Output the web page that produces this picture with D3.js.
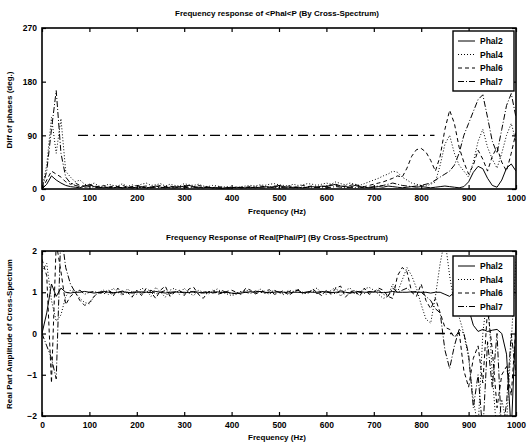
<!DOCTYPE html>
<html>
<head>
<meta charset="utf-8">
<script src="https://cdn.jsdelivr.net/npm/d3@7"></script>
<style>
  body { margin: 0; background: #fff; }
  text { font-family: "Liberation Sans", Arial, sans-serif; font-weight: bold; fill: #000; }
</style>
</head>
<body>
<div id="chart"></div>
<script>
// data (f step 10 Hz)
const freqs = d3.range(0, 1001, 10);
const seriesNames = ["Phal2", "Phal4", "Phal6", "Phal7"];

const phal2Phase = [0, 8, 22, 15, 10, 6, 4, 3, 2, 5,
  7, 4, 3, 2, 3, 2, 3, 2, 3, 2,
  3, 4, 2, 3, 5, 3, 2, 3, 4, 3,
  5, 6, 4, 3, 2, 3, 2, 2, 1, 2,
  2, 3, 2, 2, 3, 2, 3, 4, 3, 4,
  6, 4, 3, 2, 3, 2, 3, 4, 3, 5,
  4, 6, 8, 5, 4, 3, 6, 4, 3, 2,
  3, 4, 3, 5, 4, 3, 2, 3, 4, 3,
  4, 3, 2, 3, 4, 5, 4, 3, 2, 4,
  12, 28, 38, 34, 18, 6, 3, 15, 35, 42, 30];
const phal4Phase = [0, 40, 120, 60, 118, 30, 20, 12, 15, 8,
  6, 10, 5, 4, 8, 6, 5, 9, 4, 7,
  5, 8, 10, 6, 7, 9, 5, 8, 6, 5,
  9, 7, 6, 8, 5, 4, 6, 5, 3, 4,
  3, 2, 4, 5, 6, 5, 7, 6, 8, 9,
  7, 6, 5, 8, 6, 7, 9, 8, 6, 8,
  10, 8, 12, 9, 7, 10, 8, 6, 9, 12,
  15, 18, 22, 25, 30, 28, 20, 15, 10, 8,
  6, 5, 8, 12, 40, 75, 90, 60, 40, 30,
  20, 45, 80, 100, 70, 50, 35, 60, 90, 110, 80];
const phal6Phase = [0, 15, 30, 25, 20, 12, 8, 10, 6, 5,
  8, 5, 4, 6, 3, 5, 4, 6, 3, 4,
  6, 4, 5, 3, 4, 6, 4, 5, 3, 4,
  4, 5, 3, 6, 4, 3, 2, 4, 3, 2,
  2, 3, 2, 3, 4, 3, 5, 4, 3, 5,
  4, 3, 5, 4, 3, 6, 4, 5, 3, 4,
  5, 7, 6, 4, 5, 6, 8, 5, 4, 6,
  8, 10, 12, 15, 18, 22, 20, 35, 55, 66,
  68, 62, 48, 30, 55, 100, 132, 110, 70, 45,
  25, 40, 65, 50, 30, 55, 70, 45, 30, 60, 95];
const phal7Phase = [0, 30, 100, 165, 60, 20, 10, 6, 4, 3,
  4, 3, 2, 3, 2, 2, 3, 2, 3, 2,
  2, 3, 2, 2, 3, 2, 3, 2, 2, 3,
  3, 2, 3, 2, 2, 3, 2, 2, 2, 2,
  2, 2, 3, 2, 2, 3, 2, 2, 3, 2,
  3, 2, 2, 3, 2, 2, 3, 2, 3, 2,
  2, 3, 4, 3, 2, 3, 2, 3, 2, 3,
  4, 5, 6, 8, 10, 8, 6, 5, 4, 5,
  6, 8, 10, 15, 20, 25, 30, 40, 60, 90,
  110, 130, 150, 158, 120, 80, 60, 100, 140, 160, 120];

const phal2Real = [0, 0.5, 1.2, 0.9, 1.1, 1.0, 0.98, 1.0, 1.0, 1.02,
  1.0, 0.98, 1.0, 1.02, 1.0, 0.99, 1.0, 1.01, 1.0, 0.98,
  1.0, 1.01, 1.0, 0.99, 1.02, 1.0, 0.98, 1.0, 1.01, 1.0,
  1.0, 0.99, 1.02, 1.0, 0.98, 1.0, 1.0, 1.01, 0.99, 1.0,
  0.98, 0.97, 0.98, 1.0, 1.01, 1.0, 1.02, 1.0, 0.99, 1.0,
  1.01, 1.0, 0.98, 1.0, 1.0, 0.99, 1.01, 1.0, 1.0, 1.02,
  1.0, 0.99, 1.0, 1.01, 1.0, 0.98, 1.0, 1.02, 1.0, 1.0,
  1.01, 1.0, 0.99, 1.0, 1.02, 1.0, 1.0, 1.0, 1.01, 1.0,
  1.0, 1.0, 0.98, 1.0, 1.0, 0.95, 0.9, 1.0, 1.05, 0.9,
  0.6, 0.2, 0.05, 0.1, 0.05, 0.08, 0.1, 0.0, -0.5, -2.4, 0.4];
const phal4Real = [1.5, 1.7, 0.8, 0.3, 0.45, 0.9, 1.05, 1.0, 0.85, 0.75,
  0.72, 0.9, 1.0, 1.05, 0.95, 1.1, 1.0, 0.92, 1.08, 1.0,
  0.95, 1.1, 1.05, 0.9, 1.12, 1.0, 0.88, 1.05, 1.1, 0.95,
  1.1, 0.98, 0.92, 1.05, 1.0, 0.95, 1.02, 1.08, 1.0, 0.96,
  0.92, 0.95, 1.0, 1.05, 1.02, 0.98, 1.08, 1.0, 0.95, 1.05,
  1.0, 0.94, 1.05, 1.02, 1.08, 0.96, 1.0, 1.05, 1.1, 0.98,
  0.95, 1.05, 1.12, 0.9, 1.05, 1.1, 0.95, 1.0, 1.08, 1.12,
  1.05, 0.95, 0.85, 0.9, 1.2, 1.0, 1.3, 1.6, 1.4, 1.1,
  0.7, 0.35, 0.25, 0.9, 1.7, 2.3, 1.4, 0.7, 0.4, 0.0,
  -0.6, -1.6, -2.3, 0.0, 1.0, -1.0, -2.5, -1.6, -2.2, -0.2, 1.8];
const phal6Real = [1.8, 1.4, -1.2, 2.2, 1.5, 0.7, 0.9, 1.0, 0.8, 0.68,
  0.75, 0.9, 1.0, 0.95, 1.05, 0.9, 1.1, 0.95, 1.0, 0.88,
  1.05, 0.92, 1.1, 1.0, 0.85, 1.05, 1.15, 0.9, 1.0, 1.05,
  0.92, 1.08, 1.12, 0.95, 0.85, 1.0, 1.05, 0.95, 0.98, 1.02,
  1.05, 1.0, 0.95, 1.1, 1.05, 0.96, 1.0, 1.03, 1.06, 0.95,
  0.98, 1.05, 0.92, 1.0, 1.06, 1.0, 0.95, 1.08, 1.0, 0.92,
  1.05, 0.95, 1.1, 1.15, 0.88, 1.0, 1.05, 0.9, 1.1, 0.95,
  1.0, 1.1, 1.05, 0.9, 0.85, 1.4, 1.6, 1.5, 1.0, 0.9,
  1.2, 0.8, 0.6, 0.85, 0.5, 0.15, 0.1, -0.1, 0.05, -0.9,
  -1.3, -0.6, -0.3, -1.2, 0.6, -0.4, -1.8, -1.0, -0.8, -1.5, 0.2];
const phal7Real = [0.0, -0.3, -0.6, -1.1, 2.5, 1.6, 1.2, 1.0, 1.05, 0.95,
  1.0, 1.02, 0.98, 1.0, 1.05, 0.97, 1.0, 1.03, 0.98, 1.0,
  1.02, 0.98, 1.0, 1.05, 0.96, 1.0, 1.04, 0.97, 1.0, 1.02,
  0.98, 1.03, 1.0, 0.96, 1.0, 1.02, 0.98, 1.0, 1.04, 0.99,
  0.96, 0.98, 1.02, 1.0, 0.97, 1.03, 1.0, 0.98, 1.01, 1.04,
  1.0, 0.97, 1.02, 1.0, 1.05, 0.98, 1.0, 1.03, 0.97, 1.0,
  1.02, 1.0, 0.96, 1.05, 1.0, 0.98, 1.04, 1.0, 0.97, 1.02,
  1.0, 1.05, 0.95, 0.9, 1.1, 1.0, 1.05, 1.1, 1.0, 1.02,
  1.0, 0.9, 0.8, 0.6, 0.5, -0.4, -0.85, -0.3, 0.1, 0.0,
  -0.5, -1.8, -1.0, -2.4, -0.2, -1.3, 0.0, -2.5, -1.7, 0.0, -1.0];

// dash-dot reference lines
const refPhase = { value: 90, from: 76, to: 828 };
const refReal = { value: 0, from: 40, to: 880 };

const xTicks = d3.range(0, 1001, 100);
const phaseTicks = [0, 90, 180, 270];
const realTicks = [-2, -1, 0, 1, 2];

const dashes = ["none", "1,2", "4,3", "6,2,1,2"];

const width = 531, height = 448;
const svg = d3.select("#chart").append("svg")
  .attr("width", width).attr("height", height);

const x = d3.scaleLinear().domain([0, 1000]).range([42, 516]);

function drawPanel(opt) {
  const y = d3.scaleLinear().domain(opt.domain).range([opt.bottom, opt.top]);
  const g = svg.append("g");
  const clipId = "clip" + opt.id;
  svg.append("clipPath").attr("id", clipId)
    .append("rect")
    .attr("x", x.range()[0]).attr("y", opt.top)
    .attr("width", x.range()[1] - x.range()[0]).attr("height", opt.bottom - opt.top);

  const line = d3.line().x((d, i) => x(freqs[i])).y(d => y(d));
  const plot = g.append("g").attr("clip-path", `url(#${clipId})`);

  // reference line
  plot.append("line")
    .attr("x1", x(opt.ref.from)).attr("x2", x(opt.ref.to))
    .attr("y1", y(opt.ref.value)).attr("y2", y(opt.ref.value))
    .attr("stroke", "#000").attr("stroke-width", 1.3)
    .attr("stroke-dasharray", "10,5,2,5");

  opt.series.forEach((s, k) => {
    plot.append("path")
      .datum(s)
      .attr("d", line)
      .attr("fill", "none")
      .attr("stroke", "#000")
      .attr("stroke-width", 1)
      .attr("stroke-dasharray", dashes[k]);
  });

  // axes, ticks inward on all sides
  const fmt = d3.format("d");
  const xb = g.append("g").attr("transform", `translate(0,${opt.bottom})`)
    .call(d3.axisBottom(x).tickValues(xTicks).tickSize(-4).tickPadding(6).tickFormat(fmt));
  const xt = g.append("g").attr("transform", `translate(0,${opt.top})`)
    .call(d3.axisTop(x).tickValues(xTicks).tickSize(-4).tickFormat(""));
  const yl = g.append("g").attr("transform", `translate(${x.range()[0]},0)`)
    .call(d3.axisLeft(y).tickValues(opt.ticks).tickSize(-4).tickPadding(5).tickFormat(fmt));
  const yr = g.append("g").attr("transform", `translate(${x.range()[1]},0)`)
    .call(d3.axisRight(y).tickValues(opt.ticks).tickSize(-4).tickFormat(""));
  [xb, xt, yl, yr].forEach(a => {
    a.select(".domain").remove();
    a.selectAll("line").attr("stroke", "#000").attr("stroke-width", 1.2);
    a.selectAll("text").attr("font-size", 8.5).attr("font-weight", "bold")
      .attr("font-family", "Liberation Sans, Arial, sans-serif");
  });
  g.append("rect")
    .attr("x", x.range()[0]).attr("y", opt.top)
    .attr("width", x.range()[1] - x.range()[0]).attr("height", opt.bottom - opt.top)
    .attr("fill", "none").attr("stroke", "#000").attr("stroke-width", 1.6);

  // labels
  g.append("text").attr("x", 277).attr("y", opt.titleY)
    .attr("text-anchor", "middle").attr("font-size", 8).text(opt.title);
  g.append("text").attr("x", 277).attr("y", opt.xLabelY)
    .attr("text-anchor", "middle").attr("font-size", 8).text("Frequency (Hz)");
  g.append("text")
    .attr("transform", `translate(12,${opt.yLabelMid}) rotate(-90)`)
    .attr("text-anchor", "middle").attr("font-size", 8).text(opt.yLabel);

  // legend
  const lg = g.append("g").attr("transform", `translate(453,${opt.legendTop})`);
  lg.append("rect").attr("width", 61).attr("height", 60)
    .attr("fill", "#fff").attr("stroke", "#000").attr("stroke-width", 1.4);
  seriesNames.forEach((name, k) => {
    const yy = 10 + k * 13.5;
    lg.append("line").attr("x1", 5).attr("x2", 22).attr("y1", yy).attr("y2", yy)
      .attr("stroke", "#000").attr("stroke-width", 1).attr("stroke-dasharray", dashes[k]);
    lg.append("text").attr("x", 27).attr("y", yy + 3).attr("font-size", 8.5).text(name);
  });
}

drawPanel({
  id: "phase", top: 28, bottom: 189, domain: [0, 270], ticks: phaseTicks,
  series: [phal2Phase, phal4Phase, phal6Phase, phal7Phase], ref: refPhase,
  title: "Frequency response of <Phal<P (By Cross-Spectrum)",
  titleY: 16, xLabelY: 214, yLabel: "Diff of phases (deg.)", yLabelMid: 110,
  legendTop: 31
});

drawPanel({
  id: "real", top: 251, bottom: 416, domain: [-2, 2], ticks: realTicks,
  series: [phal2Real, phal4Real, phal6Real, phal7Real], ref: refReal,
  title: "Frequency Response of Real[Phal/P] (By Cross-Spectrum)",
  titleY: 240, xLabelY: 440, yLabel: "Real Part Amplitude of Cross-Spectrum", yLabelMid: 334,
  legendTop: 256
});
</script>
</body>
</html>
